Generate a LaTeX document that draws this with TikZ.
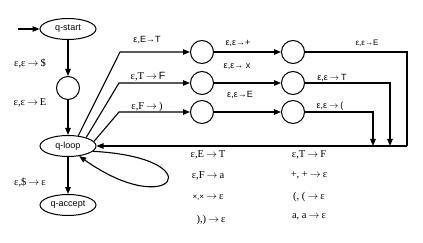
\documentclass[tikz,border=0pt]{standalone}
\usepackage{fontspec}
\setmainfont{Liberation Serif}
\newfontfamily\sansf{Liberation Sans}
\usetikzlibrary{shapes.geometric,arrows.meta}
\newcommand{\ar}{\kern2pt$\rightarrow$\kern2pt}
\begin{document}
\begin{tikzpicture}[x=1pt,y=-1pt,
  state/.style={draw,line width=1pt,ellipse,minimum width=56pt,minimum height=21pt,inner sep=0pt,font=\sansf\fontsize{9}{10}\selectfont},
  aux/.style={draw,line width=1pt,circle,minimum size=23pt,inner sep=0pt},
  edge/.style={line width=1.1pt,-{Triangle[length=7pt,width=5.5pt]}},
  plain/.style={line width=1.1pt},
  sl/.style={font=\sansf\fontsize{9}{10}\selectfont,inner sep=0pt},
  rl/.style={font=\fontsize{10.5}{12}\selectfont,inner sep=0pt}]
\useasboundingbox (0,0) rectangle (423,243);
\node[state] (qstart) at (68,29) {q-start};
\node[aux] (c0) at (68,88) {};
\node[state] (qloop) at (68,146) {q-loop};
\node[state] (qaccept) at (68,205) {q-accept};
\coordinate (init) at (18,29);
\draw[edge] (init) -- (qstart);
\draw[edge] (qstart) -- (c0);
\draw[edge] (c0) -- (qloop);
\draw[edge] (qloop) -- (qaccept);
\node[aux] (a1) at (202,52) {};
\node[aux] (a2) at (202,83) {};
\node[aux] (a3) at (202,112) {};
\node[aux] (b1) at (293,52) {};
\node[aux] (b2) at (293,83) {};
\node[aux] (b3) at (293,112) {};
\coordinate (k1) at (120,52);
\coordinate (k2) at (119,83);
\coordinate (k3) at (119,112);
\draw[edge] (qloop.45) -- (k1) -- (a1);
\draw[edge] (qloop.25) -- (k2) -- (a2);
\draw[edge] (qloop.10) -- (k3) -- (a3);
\draw[edge] (a1) -- (b1);
\draw[edge] (a2) -- (b2);
\draw[edge] (a3) -- (b3);
\coordinate (r1) at (407,52);
\coordinate (r1d) at (407,146);
\coordinate (r2) at (390,83);
\coordinate (r2d) at (390,146);
\coordinate (r3) at (373,112);
\coordinate (r3d) at (373,146);
\draw[plain] (b1) -- (r1) -- (r1d);
\draw[edge] (r1d) -- (qloop.east);
\draw[edge] (b2) -- (r2) -- (r2d);
\draw[edge] (b3) -- (r3) -- (r3d);
\draw[edge] (qloop.-12) .. controls (215,158) and (172,222) .. (qloop.-42);
% labels
\node[rl] (l1) at (30,64) {ε,ε\ar\$};
\node[rl] (l2) at (30,103) {ε,ε\ar E};
\node[rl] (l3) at (30,183) {ε,\$\ar ε};
\node[sl] (t1) at (147,40) {ε,E→T};
\node[rl] (t2) at (148,77) {ε,T\ar{\sansf F}};
\node[rl] (t3) at (147,107) {ε,F\ar)};
\node[sl] (m1) at (238,43) {ε,ε→+};
\node[sl] (m2) at (237,67) {ε,ε→ x};
\node[sl] (m3) at (240,95) {ε,ε→E};
\node[sl,font=\sansf\fontsize{8}{9}\selectfont] (n1) at (367,43) {ε,ε→E};
\node[sl] (n2) at (332,78) {ε,ε\ar T};
\node[sl] (n3) at (330,106) {ε,ε\ar(};
\node[rl] (p1) at (208,155) {ε,E\ar T};
\node[rl] (p2) at (208,176) {ε,F\ar a};
\node[rl] (p3) at (208,198) {{\sansf\fontsize{8}{9}\selectfont ×,×}\ar ε};
\node[rl] (p4) at (211,220) {),)\ar ε};
\node[rl] (q1) at (309,155) {ε,T\ar F};
\node[rl] (q2) at (309,175) {+, +\ar ε};
\node[rl] (q3) at (309,197) {(, (\ar ε};
\node[rl] (q4) at (309,217) {a, a\ar ε};
\end{tikzpicture}
\end{document}
